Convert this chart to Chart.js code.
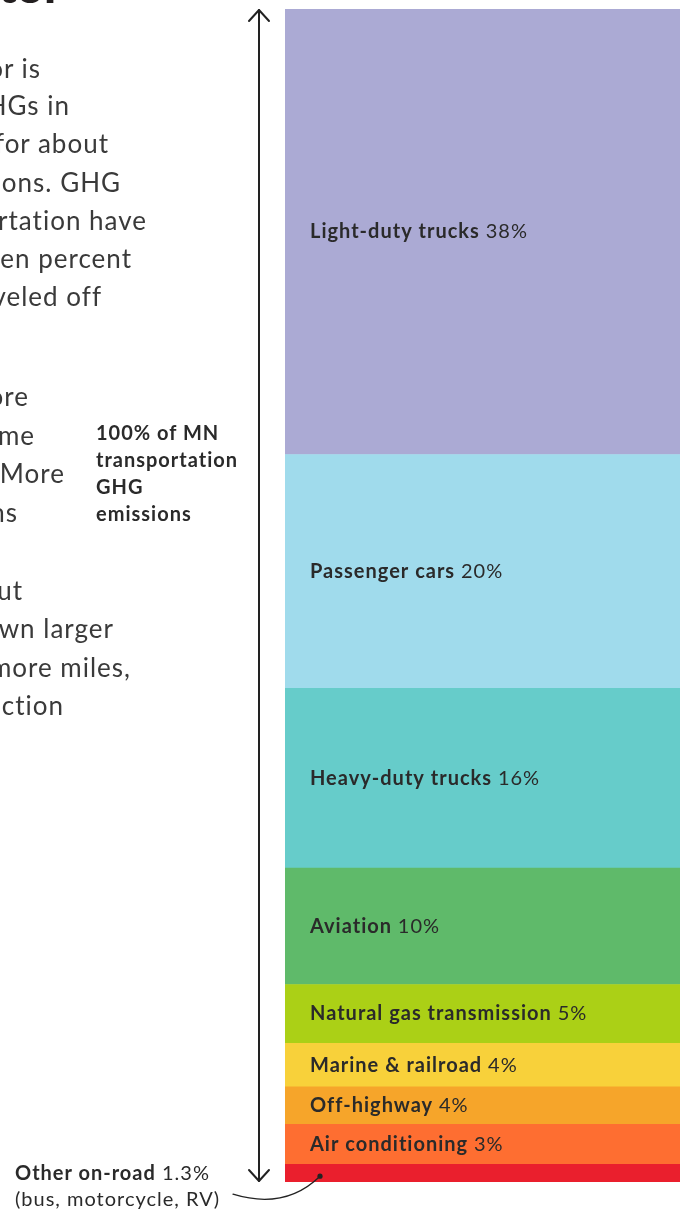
<!DOCTYPE html>
<html>
<head>
<meta charset="utf-8">
<script src="https://cdn.jsdelivr.net/npm/chart.js@4/dist/chart.umd.min.js"></script>
<style>
  html, body { margin: 0; padding: 0; background: #fff; }
  body { width: 680px; height: 1212px; overflow: hidden; position: relative; font-family: Lato, "Noto Sans", sans-serif; color: #333; }
  #chart { position: absolute; left: 0; top: 0; }
  .frag { position: absolute; white-space: nowrap; font-size: 26px; line-height: 38px; letter-spacing: 1px; color: #3a3a3a; }
  .title { position: absolute; white-space: nowrap; font-size: 48px; font-weight: 900; line-height: 58px; color: #231f20; }
  .note { position: absolute; left: 96px; top: 419px; font-size: 20px; font-weight: 700; line-height: 27px; letter-spacing: 1px; color: #2a2a2a; }
  .other { position: absolute; left: 15px; top: 1159px; font-size: 20px; line-height: 26px; letter-spacing: 1px; color: #2a2a2a; white-space: nowrap; }
  .other b { font-weight: 700; }
</style>
</head>
<body>
<canvas id="chart" width="680" height="1212"></canvas>

<div class="title" style="right:618px; top:-44px;">Transportation sector</div>

<div class="frag" style="right:639px; top:49px;">The transportation sector is</div>
<div class="frag" style="right:610px; top:86px;">the largest source of GHGs in</div>
<div class="frag" style="right:571px; top:124px;">Minnesota, accounting for about</div>
<div class="frag" style="right:559px; top:163px;">a quarter of total emissions. GHG</div>
<div class="frag" style="right:533px; top:201px;">emissions from transportation have</div>
<div class="frag" style="right:548px; top:239px;">decreased by about ten percent</div>
<div class="frag" style="right:578px; top:277px;">since 2005 but have leveled off</div>

<div class="frag" style="right:651px; top:377px;">Vehicles are driving more</div>
<div class="frag" style="right:645px; top:416px;">miles than at any time</div>
<div class="frag" style="right:615px; top:454px;">in the past. More</div>
<div class="frag" style="right:662px; top:493px;">emissions</div>

<div class="frag" style="right:657px; top:571px;">Fuel efficiency is up, but</div>
<div class="frag" style="right:566px; top:609px;">people are choosing to own larger</div>
<div class="frag" style="right:549px; top:648px;">vehicles and are driving more miles,</div>
<div class="frag" style="right:616px; top:686px;">offsetting the reduction</div>

<div class="note">100% of MN<br>transportation<br>GHG<br>emissions</div>

<div class="other"><b>Other on-road</b> 1.3%<br>(bus, motorcycle, RV)</div>

<script>
// sources, top of the column to the bottom
const categories = [
  'Light-duty trucks',
  'Passenger cars',
  'Heavy-duty trucks',
  'Aviation',
  'Natural gas transmission',
  'Marine & railroad',
  'Off-highway',
  'Air conditioning',
  'Other on-road'
]
// share of MN transportation GHG emissions (%)
const shares = [37.9, 19.9, 15.3, 9.9, 5.0, 3.7, 3.2, 3.4, 1.5]
// percentages as printed on the chart
const shareLabels = ['38%', '20%', '16%', '10%', '5%', '4%', '4%', '3%', '1.3%']
const colors = [
  '#abaad4',
  '#a0dbec',
  '#66ccca',
  '#5fba6a',
  '#abd016',
  '#f8d13a',
  '#f6a52a',
  '#fe6e31',
  '#ea1f2d'
]

const total = shares.reduce((a, b) => a + b, 0)

// chart.js stacks first dataset at the bottom, so go in reverse
const datasets = categories.map((name, i) => ({
  label: name,
  data: [shares[i]],
  backgroundColor: colors[i],
  borderWidth: 0,
  barPercentage: 1,
  categoryPercentage: 1,
  pctText: shareLabels[i]
})).reverse()

const ink = '#2a2a2a'

const segmentLabels = {
  id: 'segmentLabels',
  afterDatasetsDraw(chart) {
    const ctx = chart.ctx
    const area = chart.chartArea
    ctx.save()
    ctx.textBaseline = 'middle'
    ctx.fillStyle = ink
    ctx.letterSpacing = '1px'
    chart.data.datasets.forEach((ds, i) => {
      if (ds.label === 'Other on-road') return
      const bar = chart.getDatasetMeta(i).data[0]
      const y = (bar.y + bar.base) / 2
      const x = area.left + 25
      ctx.font = 'bold 20px Lato'
      ctx.fillText(ds.label, x, y)
      const w = ctx.measureText(ds.label + ' ').width
      ctx.font = '20px Lato'
      ctx.fillText(ds.pctText, x + w, y)
    })
    ctx.restore()
  }
}

const sideArrow = {
  id: 'sideArrow',
  afterDraw(chart) {
    const ctx = chart.ctx
    const area = chart.chartArea
    const x = area.left - 26
    const top = area.top
    const bottom = area.bottom
    ctx.save()
    ctx.strokeStyle = '#222'
    ctx.lineWidth = 2
    ctx.lineCap = 'round'
    ctx.lineJoin = 'round'
    ctx.beginPath()
    ctx.moveTo(x, top + 1)
    ctx.lineTo(x, bottom - 1)
    ctx.stroke()
    ctx.beginPath()
    ctx.moveTo(x - 10, top + 12)
    ctx.lineTo(x, top + 1)
    ctx.lineTo(x + 10, top + 12)
    ctx.stroke()
    ctx.beginPath()
    ctx.moveTo(x - 10, bottom - 12)
    ctx.lineTo(x, bottom - 1)
    ctx.lineTo(x + 10, bottom - 12)
    ctx.stroke()

    // leader line to the small red segment
    const meta = chart.getDatasetMeta(0)
    const bar = meta.data[0]
    const dx = area.left + 35
    const dy = (bar.y + bar.base) / 2 + 3
    ctx.lineWidth = 1.3
    ctx.strokeStyle = '#222'
    ctx.beginPath()
    ctx.moveTo(233, dy + 18)
    ctx.quadraticCurveTo(285, dy + 34, dx, dy)
    ctx.stroke()
    ctx.fillStyle = '#222'
    ctx.beginPath()
    ctx.arc(dx, dy, 2.6, 0, Math.PI * 2)
    ctx.fill()
    ctx.restore()
  }
}

const canvas = document.getElementById('chart')
new Chart(canvas, {
  type: 'bar',
  data: {
    labels: ['MN transportation'],
    datasets
  },
  options: {
    responsive: false,
    animation: false,
    layout: { padding: { left: 285, top: 9, right: 0, bottom: 30 } },
    plugins: {
      legend: { display: false },
      tooltip: { enabled: false },
      title: { display: false }
    },
    scales: {
      x: { stacked: true, display: false },
      y: { stacked: true, display: false, min: 0, max: total }
    }
  },
  plugins: [segmentLabels, sideArrow]
})
</script>
</body>
</html>
